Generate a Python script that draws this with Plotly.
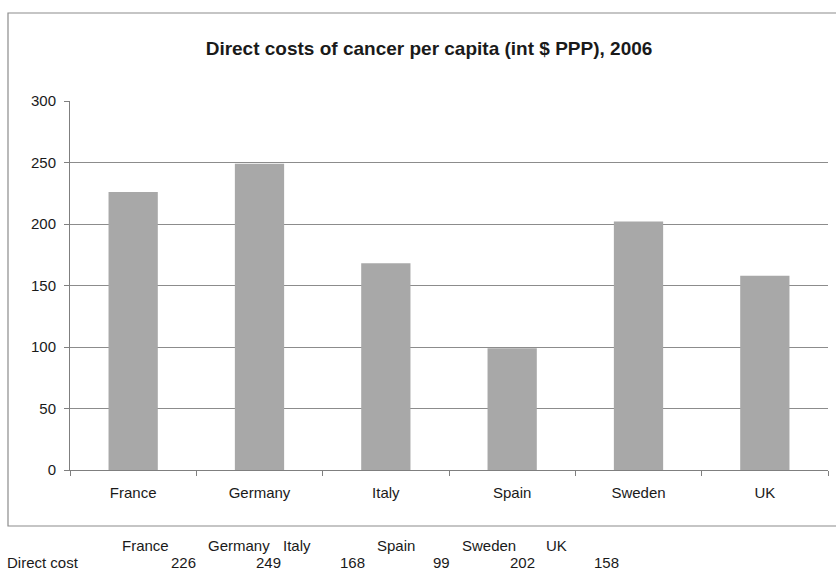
import plotly.graph_objects as go

countries = ["France", "Germany", "Italy", "Spain", "Sweden", "UK"]
direct_cost = [226, 249, 168, 99, 202, 158]
y_ticks = [0, 50, 100, 150, 200, 250, 300]
title_text = "Direct costs of cancer per capita (int $ PPP), 2006"
row_label = "Direct cost"

W, H = 836, 572
L, R, T, B = 70, 8, 101, 102
pw, ph = W - L - R, H - T - B

def px_x(px):
    return (px - L) / pw

def px_y(py):
    return (H - B - py) / ph

FONT = "Liberation Sans, Arial, Helvetica, sans-serif"
TXT = "#1a1a1a"

fig = go.Figure()
fig.add_trace(go.Bar(
    x=countries, y=direct_cost,
    marker=dict(color="#a8a8a8", line=dict(width=0)),
    hoverinfo="x+y",
))

# outer frame
shapes = [dict(type="rect", xref="paper", yref="paper",
               x0=px_x(8), x1=px_x(845), y0=px_y(526), y1=px_y(13),
               line=dict(color="#8c8c8c", width=1.2), fillcolor="rgba(0,0,0,0)", layer="below")]

annotations = []
# data table below chart
header_left = [120, 206, 281, 375, 460, 544]
value_right = [198, 283, 367, 452, 537, 621]
for name, hx in zip(countries, header_left):
    annotations.append(dict(text=name, xref="paper", yref="paper",
                            x=px_x(hx), y=px_y(545), xanchor="left", yanchor="middle",
                            showarrow=False, font=dict(family=FONT, size=15, color=TXT)))
for v, vx in zip(direct_cost, value_right):
    annotations.append(dict(text=str(v), xref="paper", yref="paper",
                            x=px_x(vx), y=px_y(562), xanchor="right", yanchor="middle",
                            showarrow=False, font=dict(family=FONT, size=15, color=TXT)))
annotations.append(dict(text=row_label, xref="paper", yref="paper",
                        x=px_x(5), y=px_y(562), xanchor="left", yanchor="middle",
                        showarrow=False, font=dict(family=FONT, size=15, color=TXT)))

fig.update_layout(
    width=W, height=H,
    margin=dict(l=L, r=R, t=T, b=B),
    paper_bgcolor="white", plot_bgcolor="white",
    title=dict(text="<b>" + title_text + "</b>", x=429 / W, xanchor="center",
               y=1 - 48 / H, yanchor="middle",
               font=dict(family=FONT, size=19, color=TXT)),
    bargap=0.61,
    showlegend=False,
    shapes=shapes,
    annotations=annotations,
    font=dict(family=FONT, color=TXT),
)
fig.update_xaxes(
    type="category",
    showline=True, linecolor="#7f7f7f", linewidth=1,
    ticks="outside", tickson="boundaries", ticklen=5, tickcolor="#7f7f7f",
    tickfont=dict(family=FONT, size=15, color=TXT),
    ticklabelstandoff=9,
    showgrid=False,
)
fig.update_yaxes(
    range=[0, 300], tickvals=y_ticks,
    showline=True, linecolor="#7f7f7f", linewidth=1,
    ticks="outside", ticklen=5, tickcolor="#7f7f7f",
    showgrid=True, gridcolor="#8c8c8c", gridwidth=1,
    zeroline=False,
    tickfont=dict(family=FONT, size=15, color=TXT),
    ticklabelstandoff=5,
)

fig.write_html("out.html")
